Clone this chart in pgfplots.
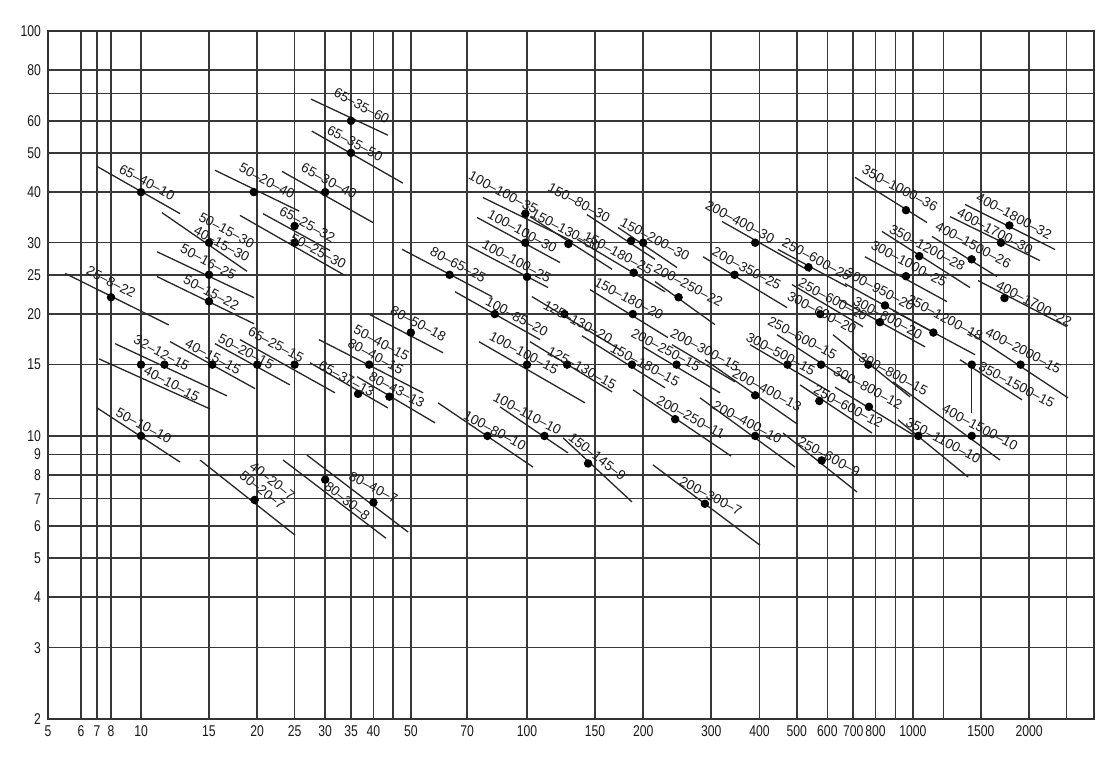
\documentclass[border=0pt]{standalone}
\usepackage{fontspec}
\setmainfont{Liberation Sans}
\newfontfamily\ticknarrow[FakeStretch=0.78]{Liberation Sans}
\usepackage{pgfplots}
\pgfplotsset{compat=1.18}
\newcommand{\seg}[4]{\addplot[segline] coordinates {(#1,#2) (#3,#4)};}
\begin{document}
\begin{tikzpicture}
\path[use as bounding box] (-24pt,-28.5pt) rectangle (536pt,359.5pt);
\begin{axis}[
  at={(0,0)}, anchor=south west,
  scale only axis, width=523pt, height=344pt,
  x coord trafo/.code={\pgfmathparse{(#1<6) ? (0.759+(#1-5)*0.0856) : ((#1<7) ? (0.8446+(#1-6)*0.0414) : ((#1<8) ? (0.886+(#1-7)*0.0363) : ((#1<10) ? (0.9223+(#1-8)*0.03885) : log10(#1))))}},
  xmin=5, xmax=2944,
  ymode=log, ymin=2, ymax=100,
  xtick={5,6,7,8,10,15,20,25,30,35,40,45,50,70,100,150,200,300,400,500,600,700,800,900,1000,1200,1500,2000,2500},
  xticklabels={5,6,7,8,10,15,20,25,30,35,40,{},50,70,100,150,200,300,400,500,600,700,800,{},1000,{},1500,2000,{}},
  ytick={2,3,4,5,6,7,8,9,10,15,20,25,30,40,50,60,70,80,100},
  yticklabels={2,3,4,5,6,7,8,9,10,15,20,25,30,40,50,60,{},80,100},
  grid=major,
  major grid style={black!78, line width=0.75pt},
  axis line style={black!80, line width=0.8pt},
  major tick length=0pt,
  tick label style={font=\ticknarrow\fontsize{7.8}{9}\selectfont, black!90},
  /pgf/number format/assume math mode=true,
  segline/.style={black!85, line width=0.65pt, mark=none},
  lab/.style={only marks, mark=none, point meta=explicit symbolic, nodes near coords,
     nodes near coords style={anchor=center, inner sep=0pt, font=\fontsize{6.8}{7.5}\selectfont, black!90}},
  clip=false,
]
% ---- segments ----
\seg{5.52}{25.2}{11.8}{18.8}
\seg{7.0}{46.3}{12.62}{35.4}
\seg{11.33}{35.6}{18.82}{25.5}
\seg{11.0}{28.5}{19.62}{21.96}
\seg{11.0}{24.75}{19.62}{18.93}
\seg{8.27}{16.9}{16.7}{12.56}
\seg{7.14}{15.5}{15.09}{11.66}
\seg{11.89}{17.1}{19.74}{13.09}
\seg{15.55}{16.9}{24.3}{13.37}
\seg{18.05}{17.29}{31.8}{12.78}
\seg{27.56}{67.9}{43.6}{55.3}
\seg{27.7}{56.6}{47.7}{42.1}
\seg{15.55}{45.3}{25.7}{35.9}
\seg{23.2}{45.0}{39.9}{33.65}
\seg{20.7}{35.4}{30.9}{28.7}
\seg{18.05}{35.04}{33.77}{24.9}
\seg{47.45}{28.9}{81.2}{22.08}
\seg{27.4}{15.16}{43.6}{11.73}
\seg{28.9}{17.29}{53.8}{12.78}
\seg{39.2}{19.93}{60.6}{16.05}
\seg{36.3}{14.0}{57.8}{10.77}
\seg{7.0}{11.73}{12.62}{8.62}
\seg{14.22}{8.72}{25.06}{5.69}
\seg{23.33}{8.72}{43.1}{5.59}
\seg{26.9}{8.97}{49.2}{5.79}
\seg{76.9}{38.8}{131.6}{30.2}
\seg{74.2}{34.64}{121.8}{26.8}
\seg{70.4}{29.5}{113.4}{23.25}
\seg{101.8}{34.8}{166.1}{25.8}
\seg{143}{35.2}{214.6}{27.3}
\seg{172.2}{32.7}{244.7}{26.05}
\seg{134.8}{30.6}{227.8}{22.7}
\seg{214.6}{24.05}{306.9}{18.83}
\seg{65.1}{22.7}{108.1}{17.29}
\seg{103.0}{22.08}{174.2}{16.33}
\seg{145.6}{22.98}{231.9}{17.49}
\seg{75.1}{17.09}{141.3}{12.07}
\seg{101.8}{17.09}{166.1}{12.85}
\seg{138.8}{17.68}{227.8}{13.15}
\seg{199.8}{16.6}{316.2}{12.78}
\seg{237.5}{16.8}{345.8}{13.6}
\seg{289.1}{15.42}{500.6}{10.71}
\seg{188.2}{13.0}{337.7}{8.92}
\seg{280.6}{12.42}{494.6}{8.38}
\seg{85.1}{11.8}{127.7}{9.08}
\seg{58.8}{12.07}{103.6}{8.38}
\seg{124}{9.89}{187.1}{6.87}
\seg{212.1}{8.48}{401.6}{5.37}
\seg{320}{33.86}{541}{25.5}
\seg{285.8}{27.7}{471.7}{20.74}
\seg{447}{28.87}{674.5}{23.38}
\seg{486}{23.65}{742.2}{18.61}
\seg{666.4}{23.78}{1107}{18.21}
\seg{647}{21.67}{1074.3}{16.6}
\seg{751}{27.7}{1225}{21.46}
\seg{831}{32.0}{1405}{23.25}
\seg{707.4}{43.5}{1087}{33.65}
\seg{1364}{37.3}{2333}{28.87}
\seg{1247}{34.8}{2133}{27.1}
\seg{1120}{31.1}{1651}{24.75}
\seg{1474}{24.19}{2506}{18.61}
\seg{887.5}{20.39}{1448}{15.87}
\seg{1389}{18.09}{2521}{12.42}
\seg{1324}{15.42}{1916}{12.28}
\seg{1420}{15}{1420}{11.4}
\seg{887.5}{13.6}{1680}{8.72}
\seg{914.3}{10.96}{1389}{7.915}
\seg{620.4}{17.78}{982}{12.49}
\seg{627.9}{13.2}{1012}{10.0}
\seg{444.4}{17.78}{686.7}{13.6}
\seg{378.3}{16.8}{609.5}{12.85}
\seg{509.7}{13.37}{783.1}{10.17}
\seg{460.4}{10.17}{716}{7.27}
% ---- points ----
\addplot[only marks, mark=*, mark size=1.9pt, black] coordinates {
(8,22) (10,40) (15,30) (15,25) (15,21.5) (11.5,15) (10,15) (15.3,15) (20,15) (25,15)
(35,60) (35,50) (19.6,40) (30,40) (25,33) (25,30) (63,25) (36.5,12.7) (39,15) (50,18)
(44,12.5) (10,10) (19.7,6.95) (30,7.8) (40,6.85)
(99,35.4) (99,30) (100,24.7) (128,29.8) (186,30.3) (200,30) (189,25.3) (247,22) (82.5,20)
(125,20) (188,20) (100,15) (127,15) (187,15) (244,15) (390,12.6) (242,11) (390,10)
(111,10) (79,10) (144,8.55) (289,6.8)
(390,30) (345,25) (536,26.1) (575,20) (846,21) (821,19.1) (959,24.8) (1038,27.8)
(959,36.1) (1777,33.1) (1690,30) (1419,27.3) (1726,21.9) (1129,18) (1900,15) (1420,15)
(1420,10) (1032,10) (766,15) (769,11.8) (578,15) (473,15) (572,12.2) (580,8.7)
};
% ---- labels ----
\addplot[lab, nodes near coords style={rotate=-28}] coordinates {
(8,24) [25--8--22]
(10.36,42.3) [65--40--10]
(16.67,32.2) [50--15--30]
(16.18,29.8) [40--15--30]
(14.94,26.9) [50--16--25]
(15.21,22.6) [50--15--22]
(11.31,16.02) [32--12--15]
(12.01,13.45) [40--10--15]
(15.37,15.7) [40--15--15]
(18.71,16.14) [50--20--15]
(22.37,16.8) [65--25--15]
(37.3,65.3) [65--35--60]
(35.84,52.8) [65--35--50]
(21.2,42.6) [50--20--40]
(30.7,42.6) [65--30--40]
(26.97,33.3) [65--25--32]
(28.8,28.6) [50--25--30]
(66.3,26.5) [80--65--25]
(34.1,13.84) [65--37--13]
(42.0,16.96) [50--40--15]
(40.55,15.72) [80--40--15]
(52.3,18.93) [80--50--18]
(45.97,13.0) [80--43--13]
(10.16,10.6) [50--10--10]
(40.0,7.46) [80--40--7]
(86.8,39.9) [100--100--35]
(97.2,32.0) [100--100--30]
(94.0,27.0) [100--100--25]
(126,32.2) [150--130--30]
(136.4,37.7) [150--80--30]
(214.6,30.6) [150--200--30]
(172.4,28.3) [150--180--25]
(261.8,23.55) [200--250--22]
(94.2,19.7) [100--85--20]
(135.6,19.15) [125--130--20]
(183.7,21.83) [150--180--20]
(98.2,16.02) [100--100--15]
(138.8,14.73) [125--130--15]
(202.2,14.98) [150--180--15]
(228.8,16.33) [200--250--15]
(289.1,16.33) [200--300--15]
(418.7,13.0) [200--400--13]
(265.6,11.13) [200--250--11]
(372.2,10.81) [200--400--10]
(100.2,11.34) [100--110--10]
(82.6,10.3) [100--80--10]
(299.2,7.11) [200--300--7]
(356.3,33.8) [200--400--30]
(370.9,25.9) [200--350--25]
(563,27.3) [250--600--25]
(620.4,21.71) [250--600--20]
(581,20.16) [300--600--20]
(821.2,22.98) [300--950--20]
(861.3,19.59) [300--800--20]
(976.4,26.65) [300--1000--25]
(1089,29.15) [350--1200--28]
(925.2,40.87) [350--1000--36]
(1827,34.9) [400--1800--32]
(1631,32.0) [400--1700--30]
(1433,29.6) [400--1500--26]
(2059,21.22) [400--1700--22]
(1210,19.59) [350--1200--18]
(1931,16.26) [400--2000--15]
(1856,13.37) [350--1500--15]
(1492,10.5) [400--1500--10]
(1198,9.74) [350--1100--10]
(889,14.24) [300--800--15]
(764.6,13.15) [300--800--12]
(516.8,17.45) [250--600--15]
(454.3,15.96) [300--500--15]
(679.8,11.82) [250--600--12]
(605.9,8.89) [250--600--9]
};
\addplot[lab, nodes near coords style={rotate=-38}] coordinates {
(21.9,7.75) [40--20--7]
(20.62,7.35) [50--20--7]
(34.24,6.92) [80--30--8]
(152.1,8.89) [150--145--9]
};
\end{axis}
\end{tikzpicture}
\end{document}
